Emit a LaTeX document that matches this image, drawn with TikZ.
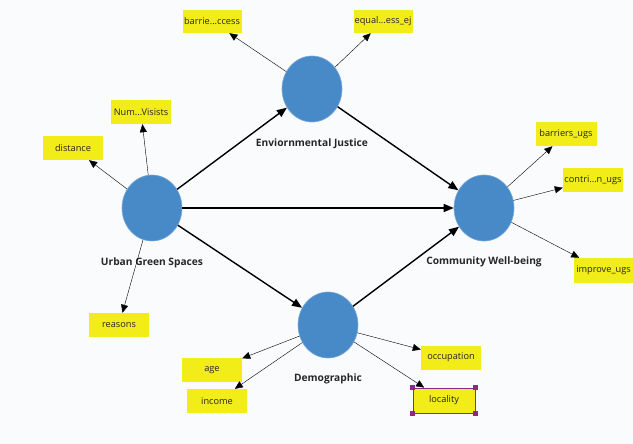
\documentclass[tikz,border=0pt]{standalone}
\usepackage{fontspec}
\setmainfont{Open Sans}
\usetikzlibrary{shapes.geometric,arrows.meta}
\definecolor{bgc}{RGB}{250,251,253}
\definecolor{lvblue}{RGB}{72,138,200}
\definecolor{lvedge}{RGB}{120,170,220}
\definecolor{indyel}{RGB}{242,236,24}
\definecolor{selpur}{RGB}{140,40,140}
\definecolor{thin}{RGB}{50,50,50}
\tikzset{
  latent/.style={ellipse, fill=lvblue, draw=lvedge, line width=0.6pt, minimum width=60pt, minimum height=66pt, inner sep=0pt},
  lvlabel/.style={font=\fontsize{10.2}{11}\selectfont\bfseries, text=black!85, inner sep=0pt},
  ind/.style={fill=indyel, minimum width=60pt, minimum height=24pt, inner sep=0pt, font=\fontsize{9.2}{10}\selectfont, text=black!85},
  pathS/.style={line width=1.4pt, black, -{Triangle[length=10pt,width=8pt]}},
  load/.style={line width=0.8pt, thin, -{Triangle[length=8pt,width=7pt,fill=black]}},
  handle/.style={fill=selpur, minimum size=5pt, inner sep=0pt}
}
\begin{document}
\begin{tikzpicture}[x=1pt,y=-1pt]
\fill[bgc] (0,0) rectangle (633,444);
\useasboundingbox (0,0) rectangle (633,444);
% latent variables
\node[latent] (ej) at (312,89) {};
\node[latent] (ugs) at (152,208) {};
\node[latent] (cwb) at (484,208) {};
\node[latent] (dem) at (328,325) {};
\node[lvlabel] (ejl) at (312,144) {Enviornmental Justice};
\node[lvlabel] (ugsl) at (152,263) {Urban Green Spaces};
\node[lvlabel] (cwbl) at (484,262) {Community Well-being};
\node[lvlabel] (deml) at (328,379) {Demographic};
% indicators
\node[ind, minimum width=59pt, minimum height=23pt] (i1) at (212,21.5) {barrie...ccess};
\node[ind, minimum width=59pt, minimum height=23pt] (i2) at (383,21.5) {equal...ess\_ej};
\node[ind] (i3) at (141,112) {Num...Visists};
\node[ind] (i4) at (73,148) {distance};
\node[ind] (i5) at (119,325) {reasons};
\node[ind, minimum width=61pt] (i6) at (566,134) {barriers\_ugs};
\node[ind] (i7) at (593,180) {contri...n\_ugs};
\node[ind, minimum width=59pt, minimum height=25pt] (i8) at (603.5,270.5) {improve\_ugs};
\node[ind] (i9) at (212,370) {age};
\node[ind] (i10) at (217,401) {income};
\node[ind] (i11) at (451,357.5) {occupation};
\node[ind, minimum width=62pt, minimum height=25pt, draw=selpur, line width=0.8pt] (i12) at (444,400.5) {locality};
\node[handle] (h1) at (i12.north west) {};
\node[handle] (h2) at (i12.north east) {};
\node[handle] (h3) at (i12.south west) {};
\node[handle] (h4) at (i12.south east) {};
% structural paths
\draw[pathS] (ugs) -- (ej);
\draw[pathS] (ugs) -- (cwb);
\draw[pathS] (ugs) -- (dem);
\draw[pathS] (ej) -- (cwb);
\draw[pathS] (dem) -- (cwb);
% loadings
\draw[load] (ej) -- (i1);
\draw[load] (ej) -- (i2);
\draw[load] (ugs) -- (i3);
\draw[load] (ugs) -- (i4);
\draw[load] (ugs) -- (i5);
\draw[load] (cwb) -- (i6);
\draw[load] (cwb) -- (i7);
\draw[load] (cwb) -- (i8);
\draw[load] (dem) -- (i9);
\draw[load] (dem) -- (i10);
\draw[load] (dem) -- (i11);
\draw[load] (dem) -- (i12);
\end{tikzpicture}
\end{document}
